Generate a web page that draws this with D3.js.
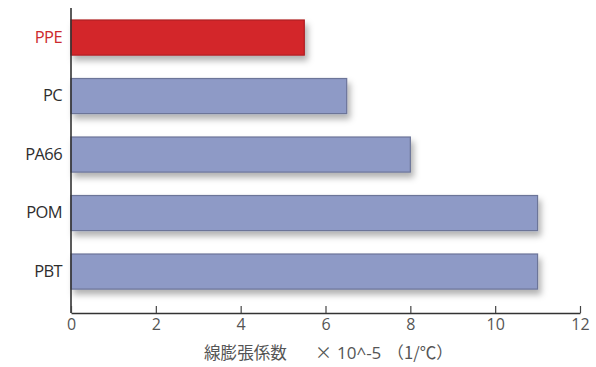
<!DOCTYPE html>
<html><head><meta charset="utf-8">
<script src="https://cdn.jsdelivr.net/npm/d3@7"></script>
<style>body{margin:0;background:#fff}svg{display:block}</style>
</head><body>
<script>
const categories = ["PPE","PC","PA66","POM","PBT"];
const values = [5.5, 6.5, 8, 11, 11];
const highlight = ["PPE"];
const xTicks = [0,2,4,6,8,10,12];
const titleParts = ["線膨張係数", "×", "10^-5", "（1/℃）"];

const W = 596, H = 367;
const svg = d3.select("body").append("svg").attr("width", W).attr("height", H);
const defs = svg.append("defs");
const f = defs.append("filter").attr("id","sh").attr("x","-10%").attr("y","-30%").attr("width","130%").attr("height","190%");
f.append("feDropShadow").attr("dx",3).attr("dy",5).attr("stdDeviation",3).attr("flood-color","#000").attr("flood-opacity",0.3);

const x0 = 71, x1 = 580, yTop = 8, yAxis = 313;
const x = d3.scaleLinear().domain([0,12]).range([x0, x1]);
const y = d3.scaleBand().domain(categories).range([8.3, 300.8]).paddingInner(0.4).paddingOuter(0.2);

svg.append("g").selectAll("rect").data(categories).join("rect")
  .attr("x", x(0)).attr("y", d => y(d))
  .attr("width", (d,i) => x(values[i]) - x(0)).attr("height", y.bandwidth())
  .attr("fill", d => highlight.includes(d) ? "#d3272c" : "#8e9ac6")
  .attr("stroke", d => highlight.includes(d) ? "#b01e22" : "#6c7498")
  .attr("stroke-width", 1.2)
  .attr("filter","url(#sh)");

// y axis
const ya = svg.append("g").attr("transform", `translate(${x0},0)`)
  .call(d3.axisLeft(y).tickSize(0).tickPadding(9));
ya.select(".domain").remove();
ya.selectAll("text").attr("font-family","'Open Sans', sans-serif").attr("font-size",16.5)
  .attr("letter-spacing","-0.6").attr("fill", d => highlight.includes(d) ? "#cc2a2e" : "#2e2e2e");
svg.append("line").attr("x1",x0).attr("x2",x0).attr("y1",yTop).attr("y2",yAxis).attr("stroke","#333").attr("stroke-width",1.6);

// x axis
const xa = svg.append("g").attr("transform", `translate(0,${yAxis})`)
  .call(d3.axisBottom(x).tickValues(xTicks).tickSizeInner(-7).tickSizeOuter(0).tickPadding(6));
xa.select(".domain").attr("stroke","#333").attr("stroke-width",1.6);
xa.selectAll(".tick line").attr("stroke","#444").attr("stroke-width",1.2);
xa.selectAll("text").attr("font-family","'Open Sans', sans-serif").attr("font-size",16).attr("fill","#555");

const t = svg.append("text").attr("x", 204).attr("y", 359).attr("fill","#555");
const cjk = "'Noto Sans CJK JP', sans-serif", lat = "'Open Sans', sans-serif";
t.append("tspan").attr("font-family", cjk).attr("font-size", 16.6).text(titleParts[0]);
t.append("tspan").attr("dx", 28).attr("font-family", cjk).attr("font-size", 17).text(titleParts[1]);
t.append("tspan").attr("dx", 5).attr("font-family", lat).attr("font-size", 17).text(titleParts[2]);
t.append("tspan").attr("dx", 6).attr("font-family", cjk).attr("font-size", 16.6).text(titleParts[3]);
</script>
</body></html>
